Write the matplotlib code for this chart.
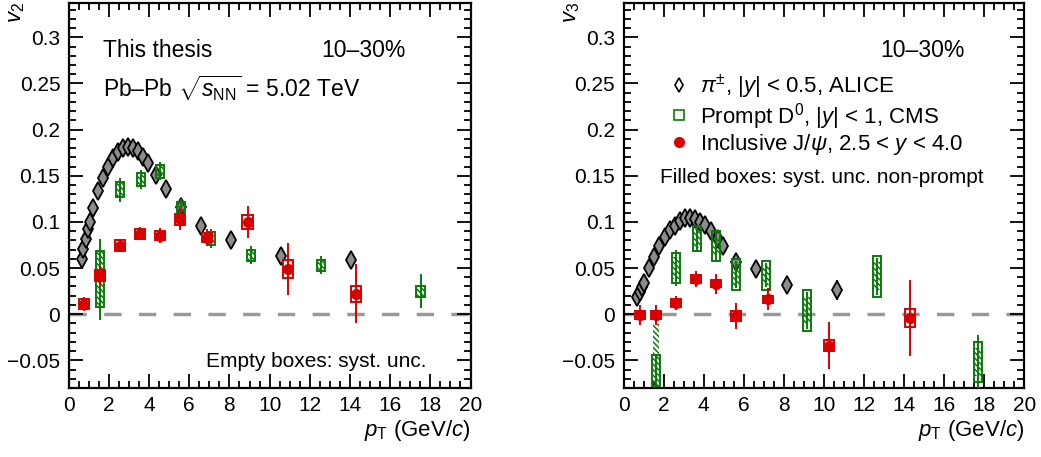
import numpy as np
import matplotlib
matplotlib.use("Agg")
import matplotlib.pyplot as plt
from matplotlib.patches import Rectangle
from matplotlib.lines import Line2D
from matplotlib.ticker import MultipleLocator

plt.rcParams['font.family'] = ['Liberation Sans', 'DejaVu Sans']
plt.rcParams['mathtext.fontset'] = 'custom'
plt.rcParams['mathtext.rm'] = 'Liberation Sans'
plt.rcParams['mathtext.it'] = 'Liberation Sans:italic'
plt.rcParams['hatch.linewidth'] = 1.1

# ---- v2 panel data ----
pi_pt_v2 = [0.66, 0.73, 0.85, 0.95, 1.05, 1.21, 1.48, 1.71, 1.96, 2.2, 2.45, 2.7,
            2.95, 3.2, 3.47, 3.7, 3.95, 4.36, 4.83, 5.6, 6.57, 8.06, 10.55, 14.03]
pi_v2 = [0.060, 0.071, 0.082, 0.092, 0.100, 0.115, 0.133, 0.148, 0.160, 0.169, 0.176, 0.180,
         0.181, 0.180, 0.177, 0.170, 0.164, 0.151, 0.136, 0.116, 0.096, 0.080, 0.063, 0.059]
pi_err_v2 = [0.002] * 21 + [0.003, 0.005, 0.008]

d0_pt_v2 = [1.58, 2.57, 3.58, 4.56, 5.57, 7.06, 9.05, 12.54, 17.51]
d0_v2 = [0.038, 0.135, 0.146, 0.155, 0.115, 0.082, 0.064, 0.053, 0.025]
d0_stat_v2 = [0.044, 0.013, 0.010, 0.010, 0.010, 0.010, 0.010, 0.010, 0.018]
d0_syst_v2 = [0.030, 0.008, 0.007, 0.007, 0.007, 0.007, 0.006, 0.006, 0.006]
d0_np_v2 = [0.030, 0.009, 0.008, 0.008, 0.008, 0.008, 0.007, 0.007, 0.007]

jpsi_pt_v2 = [0.75, 1.58, 2.57, 3.55, 4.54, 5.52, 6.87, 8.9, 10.9, 14.28]
jpsi_v2 = [0.011, 0.042, 0.074, 0.087, 0.085, 0.103, 0.083, 0.100, 0.049, 0.022]
jpsi_stat_v2 = [0.008, 0.010, 0.006, 0.007, 0.008, 0.012, 0.009, 0.017, 0.028, 0.032]
jpsi_syst_v2 = [0.005, 0.006, 0.006, 0.005, 0.005, 0.006, 0.005, 0.008, 0.010, 0.009]

# ---- v3 panel data ----
pi_pt_v3 = [0.67, 0.8, 0.92, 1.03, 1.25, 1.5, 1.78, 2.05, 2.3, 2.55, 2.8, 3.05,
            3.3, 3.55, 3.8, 4.05, 4.38, 4.72, 4.97, 5.63, 6.63, 8.17, 10.67]
pi_v3 = [0.019, 0.024, 0.0295, 0.034, 0.050, 0.062, 0.074, 0.084, 0.091, 0.096, 0.101, 0.104,
         0.1045, 0.103, 0.100, 0.097, 0.090, 0.082, 0.074, 0.0565, 0.0486, 0.0317, 0.026]
pi_err_v3 = [0.002] * 20 + [0.003, 0.007, 0.011]

d0_pt_v3 = [1.63, 2.63, 3.67, 4.63, 5.63, 7.12, 9.17, 12.63, 17.67]
d0_v3 = [-0.061, 0.050, 0.082, 0.074, 0.043, 0.042, 0.004, 0.041, -0.052]
d0_stat_v3 = [0.018, 0.020, 0.015, 0.015, 0.015, 0.013, 0.020, 0.020, 0.029]
d0_syst_v3 = [0.017, 0.016, 0.014, 0.016, 0.017, 0.016, 0.022, 0.022, 0.022]
d0_np_v3 = [0.050, 0.012, 0.010, 0.010, 0.012, 0.010, 0.015, 0.015, 0.015]

jpsi_pt_v3 = [0.8, 1.63, 2.63, 3.63, 4.6, 5.6, 7.22, 10.27, 14.3]
jpsi_v3 = [-0.001, -0.001, 0.012, 0.038, 0.033, -0.002, 0.016, -0.034, -0.004]
jpsi_stat_v3 = [0.011, 0.011, 0.008, 0.009, 0.011, 0.014, 0.012, 0.025, 0.041]
jpsi_syst_v3 = [0.004, 0.004, 0.004, 0.004, 0.004, 0.005, 0.004, 0.006, 0.010]

GREEN = '#0a7a0a'
RED = '#d90000'
GREY = '#999999'


def draw_panel(ax, pi_pt, pi_v, pi_err, d_pt, d_v, d_stat, d_syst, d_np,
               j_pt, j_v, j_stat, j_syst):
    ax.axhline(0, color=GREY, lw=2.5, dashes=(5, 5), zorder=1)

    # pions
    ax.errorbar(pi_pt, pi_v, yerr=pi_err, fmt='d', ms=9, mfc='#8c8c8c', mec='black',
                mew=1.3, ecolor='black', elinewidth=1.3, capsize=0, zorder=3)

    # prompt D0: hatched non-prompt syst, empty syst box, stat bars
    for x, y, st, sy, npv in zip(d_pt, d_v, d_stat, d_syst, d_np):
        ax.add_patch(Rectangle((x - 0.15, y - npv), 0.3, 2 * npv, fill=False,
                               hatch='\\' * 6, edgecolor=GREEN, lw=0.0, zorder=4))
        ax.add_patch(Rectangle((x - 0.2, y - sy), 0.4, 2 * sy, fill=False,
                               edgecolor=GREEN, lw=1.4, zorder=4))
    ax.errorbar(d_pt, d_v, yerr=d_stat, fmt='none', ecolor=GREEN,
                elinewidth=1.4, capsize=0, zorder=4)

    # J/psi
    for x, y, sy in zip(j_pt, j_v, j_syst):
        ax.add_patch(Rectangle((x - 0.25, y - sy), 0.5, 2 * sy, fill=False,
                               edgecolor=RED, lw=1.4, zorder=5))
    ax.errorbar(j_pt, j_v, yerr=j_stat, fmt='o', ms=7, mfc=RED, mec=RED,
                ecolor=RED, elinewidth=1.4, capsize=0, zorder=6)

    ax.set_xlim(0, 20)
    ax.set_ylim(-0.08, 0.337)
    ax.xaxis.set_major_locator(MultipleLocator(2))
    ax.xaxis.set_minor_locator(MultipleLocator(0.5))
    ax.yaxis.set_minor_locator(MultipleLocator(0.01))
    ax.set_yticks([-0.05, 0, 0.05, 0.1, 0.15, 0.2, 0.25, 0.3])
    ax.set_yticklabels(['\u22120.05', '0', '0.05', '0.1', '0.15', '0.2', '0.25', '0.3'])
    ax.tick_params(which='both', direction='in', top=True, right=True,
                   labelsize=15, width=1.3)
    ax.tick_params(which='major', length=10, pad=6)
    ax.tick_params(which='minor', length=5)
    for sp in ax.spines.values():
        sp.set_linewidth(1.6)
    ax.set_xlabel(r'$p_{\mathrm{T}}$ (GeV/$c$)', fontsize=16, loc='right', labelpad=2)


fig = plt.figure(figsize=(10.41, 4.57), dpi=100)
ax1 = fig.add_axes([0.066, 0.151, 0.386, 0.842])
ax2 = fig.add_axes([0.599, 0.151, 0.385, 0.842])

draw_panel(ax1, pi_pt_v2, pi_v2, pi_err_v2, d0_pt_v2, d0_v2, d0_stat_v2, d0_syst_v2,
           d0_np_v2, jpsi_pt_v2, jpsi_v2, jpsi_stat_v2, jpsi_syst_v2)
draw_panel(ax2, pi_pt_v3, pi_v3, pi_err_v3, d0_pt_v3, d0_v3, d0_stat_v3, d0_syst_v3,
           d0_np_v3, jpsi_pt_v3, jpsi_v3, jpsi_stat_v3, jpsi_syst_v3)

fig.text(0.016, 0.995, r'$v_{2}$', rotation=90, ha='center', va='top', fontsize=16)
fig.text(0.549, 0.995, r'$v_{3}$', rotation=90, ha='center', va='top', fontsize=16)

ax1.text(0.085, 0.86, 'This thesis', transform=ax1.transAxes, fontsize=16.5)
ax1.text(0.629, 0.86, '10\u201330%', transform=ax1.transAxes, fontsize=16.5)
ax1.text(0.085, 0.756, 'Pb\u2013Pb ' + r'$\sqrt{s_{\mathrm{NN}}}$ = 5.02 TeV',
         transform=ax1.transAxes, fontsize=16.5)
ax1.text(0.89, 0.055, 'Empty boxes: syst. unc.', transform=ax1.transAxes,
         fontsize=15, ha='right')

ax2.text(0.64, 0.86, '10\u201330%', transform=ax2.transAxes, fontsize=16.5)
ax2.text(0.09, 0.532, 'Filled boxes: syst. unc. non-prompt', transform=ax2.transAxes,
         fontsize=15)

handles = [
    Line2D([], [], ls='none', marker='d', ms=7, mfc='white', mec='black', mew=1.2),
    Line2D([], [], ls='none', marker='s', ms=7, mfc='white', mec=GREEN, mew=1.2),
    Line2D([], [], ls='none', marker='o', ms=7, mfc=RED, mec=RED),
]
labels = [r'$\pi^{\pm}$, |$y$| < 0.5, ALICE',
          r'Prompt D$^{0}$, |$y$| < 1, CMS',
          r'Inclusive J/$\psi$, 2.5 < $y$ < 4.0']
ax2.legend(handles, labels, loc='upper left', bbox_to_anchor=(0.115, 0.82),
           frameon=False, fontsize=16, handlelength=0.8, handletextpad=0.55,
           labelspacing=0.0, borderaxespad=0, borderpad=0)

fig.savefig('out.png', dpi=100)
